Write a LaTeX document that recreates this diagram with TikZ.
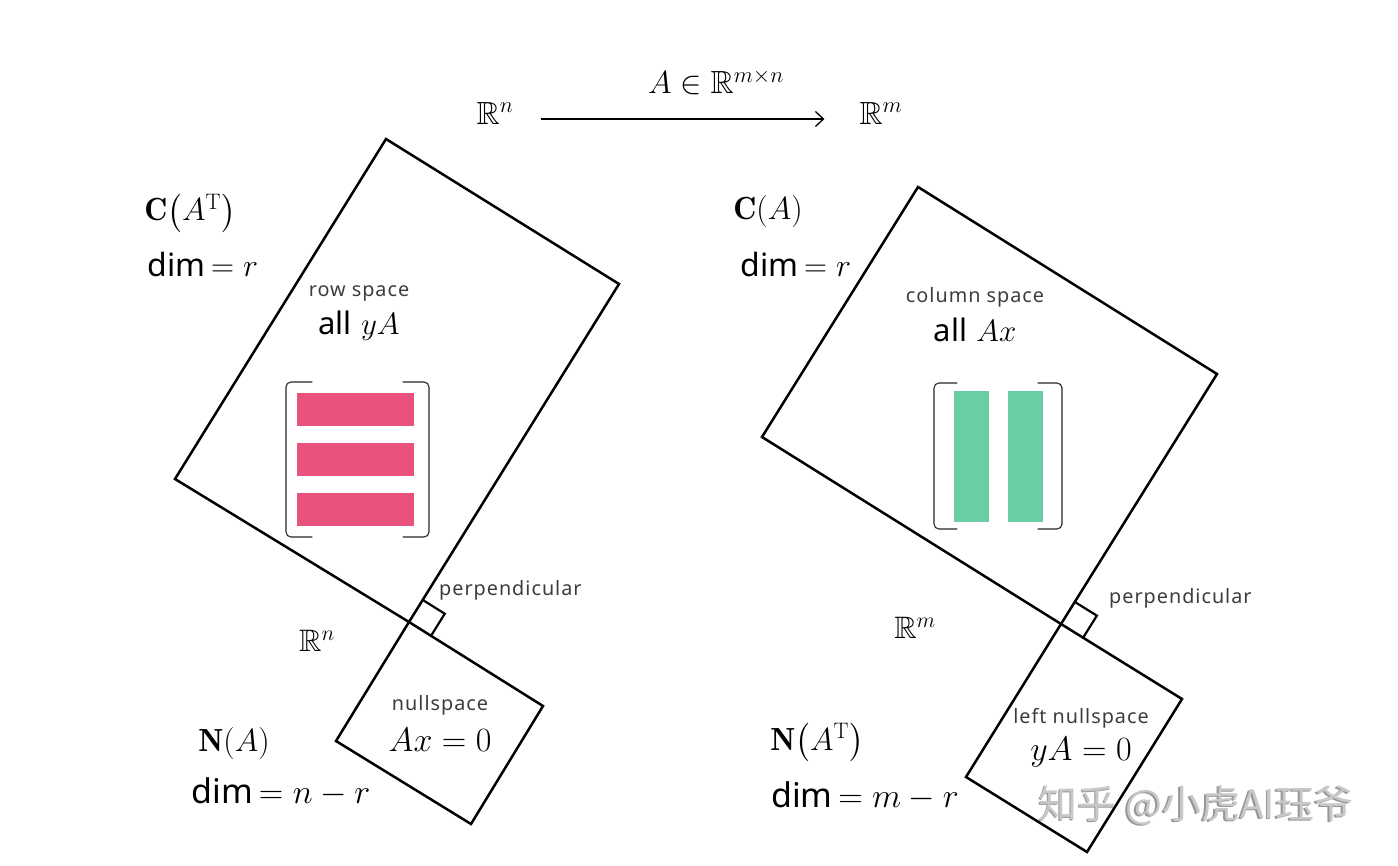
\RequirePackage{fix-cm}
\documentclass[tikz,border=0pt]{standalone}
\usepackage{amsmath,amssymb}
\DeclareFontFamily{U}{msb}{}
\DeclareFontShape{U}{msb}{m}{n}{<-6>msbm5<6-8>msbm7<8->msbm10}{}
\usepackage{fontspec}
\newfontfamily\lab{Noto Sans}
\newfontfamily\labsp[LetterSpace=5]{Noto Sans}
\newfontfamily\cjk{Noto Sans CJK SC}
\usetikzlibrary{arrows.meta,calc}
\definecolor{pinkbar}{RGB}{232,82,125}
\definecolor{greenbar}{RGB}{106,205,163}
\definecolor{labgray}{RGB}{60,60,60}
\definecolor{wmgray}{RGB}{200,200,200}
\definecolor{wmdark}{RGB}{150,150,150}
\tikzset{
  edge/.style={draw=black,line width=2.5pt,line join=miter},
  bigtxt/.style={inner sep=0pt,font=\fontsize{32}{38}\selectfont},
  eqtxt/.style={inner sep=0pt,font=\fontsize{34}{40}\selectfont},
  midtxt/.style={inner sep=0pt,font=\fontsize{31}{36}\selectfont},
  toptxt/.style={inner sep=0pt,font=\fontsize{32}{38}\selectfont},
  smalltxt/.style={inner sep=0pt,text=labgray,font=\fontsize{19.8}{24}\selectfont\labsp},
  brk/.style={draw=black!85,line width=1.1pt,line cap=round},
  arr/.style={draw=black,line width=1.3pt,-{Straight Barb[length=8pt,width=15pt,line width=1.3pt]}},
}
\begin{document}
\begin{tikzpicture}[x=1pt,y=-1pt]
\useasboundingbox (0,0) rectangle (1398,866);

% ---------- top ----------
\node[toptxt] (Rn) at (495,113) {$\mathbb{R}^n$};
\node[toptxt] (Rm) at (881,113) {$\mathbb{R}^m$};
\node[toptxt] (Amap) at (716,82) {$A\in\mathbb{R}^{m\times n}$};
\draw[arr] ([xshift=27pt,yshift=-6pt]Rn.east) -- ([xshift=-35pt,yshift=-6pt]Rm.west);

% ---------- left: row space & nullspace ----------
\coordinate (LT) at (386,139);
\coordinate (LR) at (619,284);
\coordinate (LB) at (409,622);
\coordinate (LL) at (175,479);
\coordinate (NR) at (543,706);
\coordinate (NB) at (471,824);
\coordinate (NL) at (336,741);
\draw[edge] (LT) -- (LR) -- (LB) -- (LL) -- cycle;
\draw[edge] (LB) -- (NR) -- (NB) -- (NL) -- cycle;
\coordinate (LP1) at ($(LB)!26pt!(LR)$);
\coordinate (LP2) at ($(LB)!26pt!(NR)$);
\draw[edge,line width=2.2pt] (LP1) -- ($(LP1)+(LP2)-(LB)$) -- (LP2);

% matrix of rows
\foreach \yy in {393,443,493}{
  \fill[pinkbar] (297,\yy) rectangle (414,\yy+33);
}
\draw[brk] (312,382) -- (291,382) to[out=180,in=90] (286,387) -- (286,532) to[out=-90,in=180] (291,537) -- (312,537);
\draw[brk] (403,382) -- (424,382) to[out=0,in=90] (429,387) -- (429,532) to[out=-90,in=0] (424,537) -- (403,537);

\node[bigtxt] (CAT) at (190,213) {$\mathbf{C}\bigl(A^{\mathrm{T}}\bigr)$};
\node[bigtxt] (dimL) at (203,265) {{\lab dim}$\,=r$};
\node[smalltxt] (rowsp) at (359,293) {row space};
\node[midtxt] (allyA) at (359,326) {{\lab all} $yA$};
\node[smalltxt,anchor=west] (perpL) at (439,590) {perpendicular};
\node[midtxt] (RnL) at (317,641) {$\mathbb{R}^n$};
\node[smalltxt] (nullsp) at (440,705) {nullspace};
\node[eqtxt] (Ax0) at (440,740) {$Ax=0$};
\node[bigtxt] (NA) at (234,743) {$\mathbf{N}(A)$};
\node[eqtxt] (dimNL) at (281,792) {{\lab dim}$\,=n-r$};

% ---------- right: column space & left nullspace ----------
\coordinate (RT) at (918,187);
\coordinate (RR) at (1217,374);
\coordinate (RB) at (1061,624);
\coordinate (RL) at (762,437);
\coordinate (MR) at (1182,699);
\coordinate (MB) at (1087,852);
\coordinate (ML) at (966,777);
\draw[edge] (RT) -- (RR) -- (RB) -- (RL) -- cycle;
\draw[edge] (RB) -- (MR) -- (MB) -- (ML) -- cycle;
\coordinate (RP1) at ($(RB)!26pt!(RR)$);
\coordinate (RP2) at ($(RB)!26pt!(MR)$);
\draw[edge,line width=2.2pt] (RP1) -- ($(RP1)+(RP2)-(RB)$) -- (RP2);

% matrix of columns
\fill[greenbar] (954,391) rectangle (989,522);
\fill[greenbar] (1008,391) rectangle (1043,522);
\draw[brk] (957,383) -- (939,383) to[out=180,in=90] (934,388) -- (934,524) to[out=-90,in=180] (939,529) -- (957,529);
\draw[brk] (1038,383) -- (1057,383) to[out=0,in=90] (1062,388) -- (1062,524) to[out=-90,in=0] (1057,529) -- (1038,529);

\node[bigtxt] (CA) at (768,212) {$\mathbf{C}(A)$};
\node[bigtxt] (dimR) at (796,265) {{\lab dim}$\,=r$};
\node[smalltxt] (colsp) at (975,297) {column space};
\node[midtxt] (allAx) at (975,330) {{\lab all} $Ax$};
\node[smalltxt,anchor=west] (perpR) at (1109,598) {perpendicular};
\node[midtxt] (RmR) at (915,628) {$\mathbb{R}^m$};
\node[smalltxt] (lnullsp) at (1081,718) {left nullspace};
\node[eqtxt] (yA0) at (1081,752) {$yA=0$};
\node[bigtxt] (NAT) at (817,742) {$\mathbf{N}\bigl(A^{\mathrm{T}}\bigr)$};
\node[eqtxt] (dimNR) at (865,796) {{\lab dim}$\,=m-r$};

% ---------- watermark ----------
\node[inner sep=0pt,text=wmdark,font=\fontsize{39}{44}\selectfont\cjk] (wmshadow) at (1194.5,806.5) {知乎 @小虎AI珏爷};
\node[inner sep=0pt,text=wmgray,font=\fontsize{39}{44}\selectfont\cjk] (wm) at (1196,805) {知乎 @小虎AI珏爷};
\end{tikzpicture}
\end{document}
